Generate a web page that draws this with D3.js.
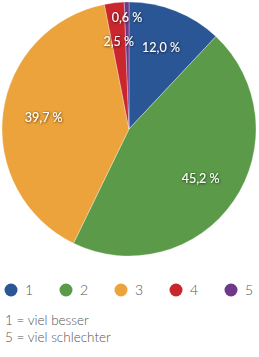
<!DOCTYPE html>
<html><head><meta charset="utf-8">
<script src="https://cdn.jsdelivr.net/npm/d3@7"></script>
<style>body{margin:0;background:#fff}</style>
</head><body>
<script>
const categories = ["1","2","3","4","5"];
const values = [12.0, 45.2, 39.7, 2.5, 0.6];
const labels = ["12,0 %","45,2 %","39,7 %","2,5 %","0,6 %"];
const colors = ["#2b5696","#5b9a48","#eca33b","#c9262e","#6f3989"];
const notes = ["1 = viel besser","5 = viel schlechter"];

const W=259,H=357, cx=129, cy=129, R=127;
const svg=d3.select("body").append("svg").attr("width",W).attr("height",H);
const defs=svg.append("defs");
const f=defs.append("filter").attr("id","sh").attr("x","-20%").attr("y","-50%").attr("width","140%").attr("height","200%");
f.append("feDropShadow").attr("dx",0.5).attr("dy",0.5).attr("stdDeviation",0.8).attr("flood-color","#000").attr("flood-opacity",0.8);

const pie=d3.pie().sort(null).value(d=>d);
const arcs=pie(values);
const arc=d3.arc().innerRadius(0).outerRadius(R);
const g=svg.append("g").attr("transform",`translate(${cx},${cy})`);
g.selectAll("path").data(arcs).join("path").attr("d",arc)
 .attr("fill",(d,i)=>colors[i]).attr("stroke","#fff").attr("stroke-width",0.5).attr("stroke-opacity",0.6);
const lr=[87,87,86,88,111];
g.selectAll("text").data(arcs).join("text")
 .attr("transform",(d,i)=>{const c=d3.arc().innerRadius(lr[i]).outerRadius(lr[i]).centroid(d);return `translate(${c})`;})
 .attr("text-anchor","middle").attr("dy","0.35em")
 .attr("font-family","Lato, 'Open Sans', sans-serif").attr("font-size",12.5)
 .attr("fill","#fff").attr("filter","url(#sh)")
 .text((d,i)=>labels[i]);

const lx=d3.scalePoint().domain(categories).range([11,231]);
const leg=svg.append("g").attr("transform","translate(0,290)");
const li=leg.selectAll("g").data(categories).join("g").attr("transform",d=>`translate(${lx(d)},0)`);
li.append("circle").attr("r",6.5).attr("fill",(d,i)=>colors[i]);
li.append("text").attr("x",14).attr("dy","0.35em").attr("font-family","Lato, 'Open Sans', sans-serif").attr("font-weight",300).attr("font-size",14).attr("fill","#555").text(d=>d);

svg.append("g").selectAll("text").data(notes).join("text")
 .attr("x",5).attr("y",(d,i)=>325+i*16.5)
 .attr("font-family","Lato, 'Open Sans', sans-serif").attr("font-weight",300).attr("font-size",13.5).attr("fill","#555").text(d=>d);
</script>
</body></html>
